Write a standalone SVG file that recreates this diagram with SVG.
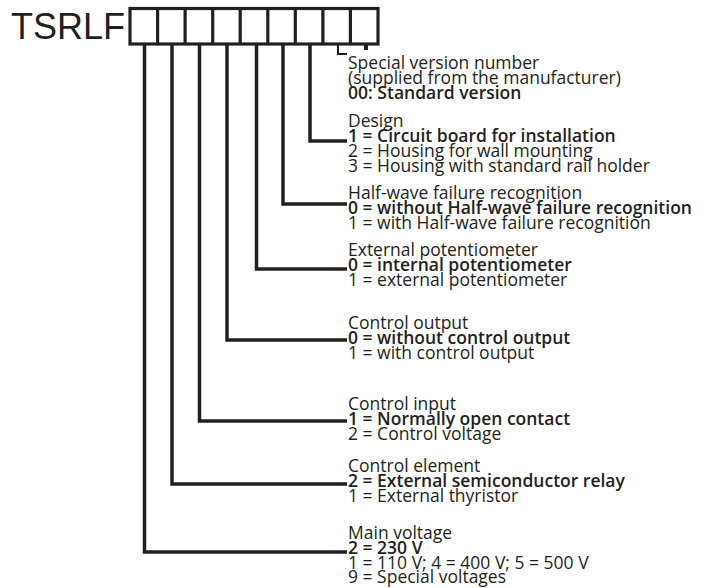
<svg xmlns="http://www.w3.org/2000/svg" width="712" height="588" viewBox="0 0 712 588">
<style>
.t{font-family:"Open Sans","Liberation Sans",sans-serif;font-size:17.5px;fill:#231f20}
.b{font-weight:600}
.c{fill:none;stroke:#231f20;stroke-width:3.5;stroke-linejoin:miter;stroke-linecap:butt}
.box{fill:none;stroke:#231f20;stroke-width:3.2}
</style>
<rect width="712" height="588" fill="#fff"/>
<g id="code">
<text x="11" y="39" font-family="Liberation Sans, Arial, sans-serif" font-size="36" fill="#231f20">TSRLF</text>
<rect class="box" x="130" y="8.5" width="248" height="35.5"/>
<path class="box" d="M157.6 8.5V44M185.1 8.5V44M212.7 8.5V44M240.2 8.5V44M267.8 8.5V44M295.3 8.5V44M322.9 8.5V44M350.4 8.5V44"/>
</g>
<g id="connectors">
<path class="c" d="M310 44V141H347"/>
<path class="c" d="M283 44V204H347"/>
<path class="c" d="M256.5 44V269H347"/>
<path class="c" d="M227 44V340H347"/>
<path class="c" d="M199.5 44V421H347"/>
<path class="c" d="M172 44V484H347"/>
<path class="c" d="M144.5 44V552H347"/>
<path fill="none" stroke="#231f20" stroke-width="2" d="M338 44V54H347"/>
<path fill="none" stroke="#231f20" stroke-width="4" d="M366 44V50"/>
</g>
<g id="special" class="t">
<text x="348" y="69">Special version number</text>
<text x="348" y="84">(supplied from the manufacturer)</text>
<text x="348" y="99" class="b">00: Standard version</text>
</g>
<g id="design" class="t">
<text x="348" y="127">Design</text>
<text x="348" y="142" class="b">1 = Circuit board for installation</text>
<text x="348" y="157">2 = Housing for wall mounting</text>
<text x="348" y="172">3 = Housing with standard rail holder</text>
</g>
<g id="halfwave" class="t">
<text x="348" y="199">Half-wave failure recognition</text>
<text x="348" y="214" class="b">0 = without Half-wave failure recognition</text>
<text x="348" y="229">1 = with Half-wave failure recognition</text>
</g>
<g id="potentiometer" class="t">
<text x="348" y="256">External potentiometer</text>
<text x="348" y="271" class="b">0 = internal potentiometer</text>
<text x="348" y="286">1 = external potentiometer</text>
</g>
<g id="controloutput" class="t">
<text x="348" y="329">Control output</text>
<text x="348" y="344" class="b">0 = without control output</text>
<text x="348" y="359">1 = with control output</text>
</g>
<g id="controlinput" class="t">
<text x="348" y="410">Control input</text>
<text x="348" y="425" class="b">1 = Normally open contact</text>
<text x="348" y="440">2 = Control voltage</text>
</g>
<g id="controlelement" class="t">
<text x="348" y="472">Control element</text>
<text x="348" y="487" class="b">2 = External semiconductor relay</text>
<text x="348" y="502">1 = External thyristor</text>
</g>
<g id="mainvoltage" class="t">
<text x="348" y="539">Main voltage</text>
<text x="348" y="554" class="b">2 = 230 V</text>
<text x="348" y="569">1 = 110 V; 4 = 400 V; 5 = 500 V</text>
<text x="348" y="583">9 = Special voltages</text>
</g>
</svg>
